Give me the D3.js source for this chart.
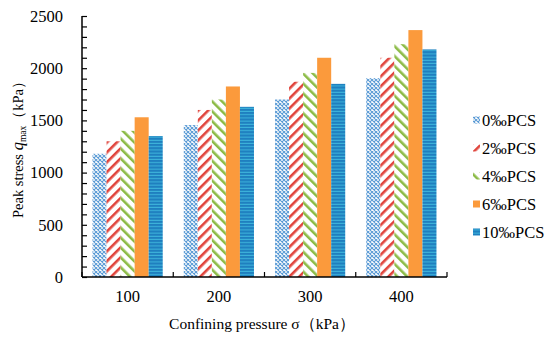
<!DOCTYPE html>
<html><head><meta charset="utf-8">
<script src="https://cdn.jsdelivr.net/npm/d3@7"></script>
<style>body{margin:0;background:#fff}svg{display:block}</style>
</head><body>
<svg id="c" width="550" height="339"></svg>
<script>
const categories = ["100","200","300","400"];
const seriesNames = ["0‰PCS","2‰PCS","4‰PCS","6‰PCS","10‰PCS"];
const s0 = [1180,1455,1700,1905];
const s2 = [1300,1600,1870,2100];
const s4 = [1400,1700,1955,2230];
const s6 = [1530,1825,2100,2365];
const s10 = [1350,1630,1850,2180];
const yTicks = [0,500,1000,1500,2000,2500];
const values = [s0,s2,s4,s6,s10];

const svg = d3.select("#c");
const m = {l:82, r:447, t:16, b:277};
const x = d3.scaleBand().domain(categories).range([m.l,m.r]);
const xs = d3.scaleBand().domain(seriesNames).range([0,x.bandwidth()]).paddingOuter(0.75).paddingInner(0);
const y = d3.scaleLinear().domain([0,2500]).range([m.b,m.t]);

const defs = svg.append("defs");
let p = defs.append("pattern").attr("id","p0").attr("patternUnits","userSpaceOnUse").attr("width",4).attr("height",4);
p.append("rect").attr("width",4).attr("height",4).attr("fill","#fff");
p.append("path").attr("d","M0,0L4,4M4,0L0,4").attr("stroke","#5b9bd5").attr("stroke-width",1.1);
p = defs.append("pattern").attr("id","p2").attr("patternUnits","userSpaceOnUse").attr("width",7).attr("height",7).attr("patternTransform","rotate(45)");
p.append("rect").attr("width",7).attr("height",7).attr("fill","#fff");
p.append("rect").attr("x",0).attr("width",2.6).attr("height",7).attr("fill","#e0443c");
p = defs.append("pattern").attr("id","p4").attr("patternUnits","userSpaceOnUse").attr("width",7).attr("height",7).attr("patternTransform","rotate(-45)");
p.append("rect").attr("width",7).attr("height",7).attr("fill","#fff");
p.append("rect").attr("x",0).attr("width",2.6).attr("height",7).attr("fill","#8cbb46");
p = defs.append("pattern").attr("id","p10").attr("patternUnits","userSpaceOnUse").attr("width",4).attr("height",3.2);
p.append("rect").attr("width",4).attr("height",3.2).attr("fill","#1f7fbf");
p.append("rect").attr("y",2.2).attr("width",4).attr("height",1).attr("fill","#3fb6dc");
const fills = ["url(#p0)","url(#p2)","url(#p4)","#fb9a3c","url(#p10)"];

categories.forEach((c,ci)=>{
  seriesNames.forEach((s,si)=>{
    const v = values[si][ci];
    svg.append("rect").attr("x",x(c)+xs(s)).attr("width",xs.bandwidth())
      .attr("y",y(v)).attr("height",y(0)-y(v)).attr("fill",fills[si]);
  });
});

const font = "Liberation Serif";
const ya = svg.append("g").attr("transform",`translate(${m.l},0)`)
  .call(d3.axisRight(y).tickValues(d3.range(0,2501,100)).tickSize(5).tickFormat(""));
ya.select(".domain").remove();
ya.selectAll("line").attr("stroke","#000").attr("stroke-width",1.2);
svg.append("line").attr("x1",m.l).attr("x2",m.l).attr("y1",m.t).attr("y2",m.b).attr("stroke","#000").attr("stroke-width",1.5);
yTicks.forEach(t=>{
  svg.append("text").attr("x",63).attr("y",y(t)).attr("dy","0.35em").attr("text-anchor","end")
   .attr("font-family",font).attr("font-size",16.5).text(t);
});
svg.append("line").attr("x1",m.l).attr("x2",m.r).attr("y1",m.b).attr("y2",m.b).attr("stroke","#000").attr("stroke-width",1.5);
const bounds = categories.map(c=>x(c)).concat([m.r]);
bounds.forEach(b=>{
  svg.append("line").attr("x1",b).attr("x2",b).attr("y1",m.b).attr("y2",m.b-5).attr("stroke","#000").attr("stroke-width",1.2);
});
categories.forEach(c=>{
  svg.append("text").attr("x",x(c)+x.bandwidth()/2).attr("y",302).attr("text-anchor","middle")
   .attr("font-family",font).attr("font-size",16.5).text(c);
});
svg.append("text").attr("x",262).attr("y",329).attr("text-anchor","middle")
  .attr("font-family",font).attr("font-size",15.5).text("Confining pressure σ（kPa）");
const yt = svg.append("text").attr("transform",`translate(23,146) rotate(-90)`).attr("text-anchor","middle")
  .attr("font-family",font).attr("font-size",14.5);
yt.append("tspan").text("Peak stress ");
yt.append("tspan").attr("font-style","italic").attr("font-size",16.5).text("q");
yt.append("tspan").attr("font-size",9.5).attr("dy",3).text("max");
yt.append("tspan").attr("dy",-3).text("（kPa）");

seriesNames.forEach((s,i)=>{
  const cy = 120 + i*28;
  svg.append("rect").attr("x",473).attr("y",cy-3.5).attr("width",7).attr("height",7).attr("fill",fills[i]);
  svg.append("text").attr("x",482).attr("y",cy).attr("dy","0.35em").attr("font-family",font).attr("font-size",16.5).text(s);
});
</script>
</body></html>
